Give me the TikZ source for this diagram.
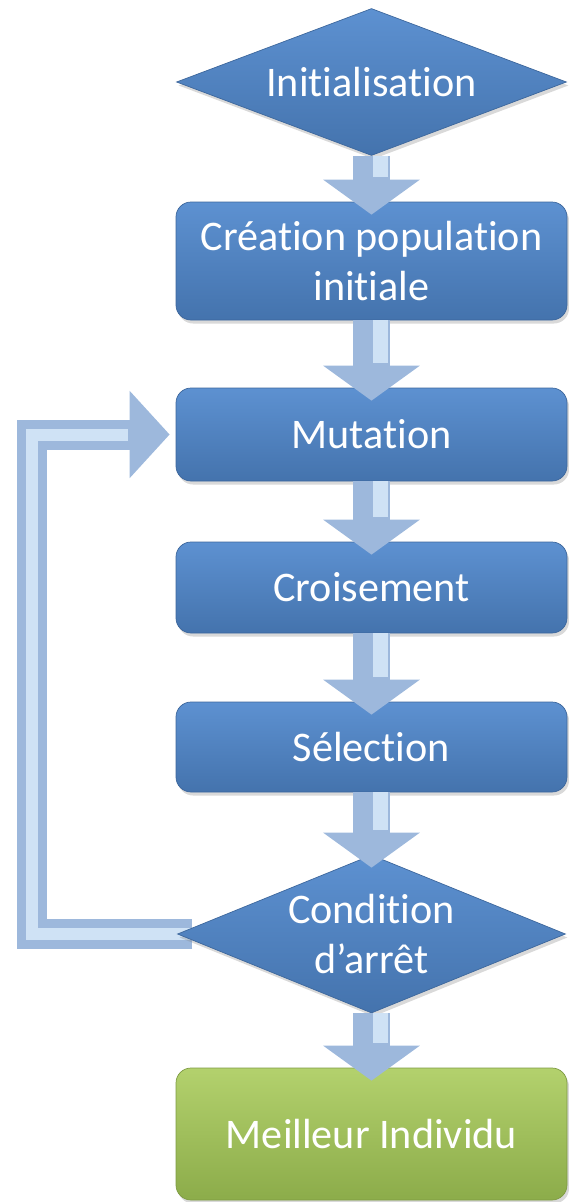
\documentclass[tikz,border=0pt]{standalone}
\usepackage{fontspec}
\setmainfont{Carlito}[Ligatures={NoCommon}]
\usepackage{tikz}
\usepackage{xcolor}
\usetikzlibrary{shapes.geometric, arrows.meta, positioning, shadows, backgrounds}

\definecolor{bleuclair}{HTML}{5D91D1}
\definecolor{bleufonce}{HTML}{4473AD}
\definecolor{flechebleu}{HTML}{9DB8DC}
\definecolor{flecheclair}{HTML}{CFE2F5}
\definecolor{vertclair}{HTML}{B3D16D}
\definecolor{vertfonce}{HTML}{8CAC4A}

\tikzstyle{etape} = [rectangle, rounded corners=0.3cm,
minimum width=7.82cm, inner sep=0pt, align=center,
top color=bleuclair, bottom color=bleufonce, draw=bleufonce!90!black,
text=white, font=\fontsize{24}{29}\selectfont,
drop shadow={opacity=0.3, shadow xshift=0.04cm, shadow yshift=-0.07cm}]
\tikzstyle{test} = [diamond, aspect=2.6, % le texte deborde un peu
inner xsep=-1.2cm, inner ysep=-0.6cm, align=center,
top color=bleuclair, bottom color=bleufonce, draw=bleufonce!90!black,
text=white, font=\fontsize{24}{29}\selectfont,
drop shadow={opacity=0.3, shadow xshift=0.04cm, shadow yshift=-0.07cm}]

\begin{document}
\begin{tikzpicture}[
        % fleches epaisses entre les etapes
        flux/.style={line width=0.74cm, draw=flechebleu,
            -{Triangle[width=1.9cm, length=0.7cm]}, shorten >=-0.26cm,
            postaction={draw=flecheclair, line width=0.3cm, -,
                transform canvas={xshift=0.17cm}, shorten >=0.5cm}},
        % fleche de retour vers la mutation
        retour/.style={line width=0.6cm, draw=flechebleu, line join=miter,
            -{Triangle[width=1.7cm, length=0.8cm]}, shorten >=0.12cm, shorten <=-0.3cm,
            postaction={draw=flecheclair, line width=0.24cm, -, shorten >=0.95cm}},
        fin/.style={etape, top color=vertclair, bottom color=vertfonce, draw=vertfonce!90!black},
    ]
        \useasboundingbox (0,0) rectangle (11.36,-24.04);

        % 1. Les etapes de l'algorithme
        \node (init) [test, minimum width=7.8cm, minimum height=2.94cm] at (7.43,-1.64) {Initialisation};
        \node (crea) [etape, minimum height=2.36cm] at (7.43,-5.22) {Création population\\initiale};
        \node (mut) [etape, minimum height=1.86cm] at (7.43,-8.69) {Mutation};
        \node (crois) [etape, minimum height=1.82cm] at (7.43,-11.75) {Croisement};
        \node (sel) [etape, minimum height=1.8cm] at (7.43,-14.94) {Sélection};
        \node (cond) [test, minimum width=7.76cm, minimum height=3.16cm] at (7.43,-18.68) {Condition\\d’arrêt};
        \node (best) [fin, minimum height=2.64cm] at (7.43,-22.68) {Meilleur Individu};

        % 2. Les fleches
        \draw[flux] (init.south) -- (crea.north);
        \draw[flux] (crea.south) -- (mut.north);
        \draw[flux] (mut.south) -- (crois.north);
        \draw[flux] (crois.south) -- (sel.north);
        \draw[flux] (sel.south) -- (cond.north);
        \draw[flux] (cond.south) -- (best.north);

        % 3. Boucle : on recommence tant que la condition n'est pas remplie
        \coordinate (gauche) at (0.64,-18.68);
        \begin{scope}[on background layer]
            \draw[retour] (cond.west) -- (cond.west -| gauche) |- (mut.west);
        \end{scope}

    \end{tikzpicture}
\end{document}
